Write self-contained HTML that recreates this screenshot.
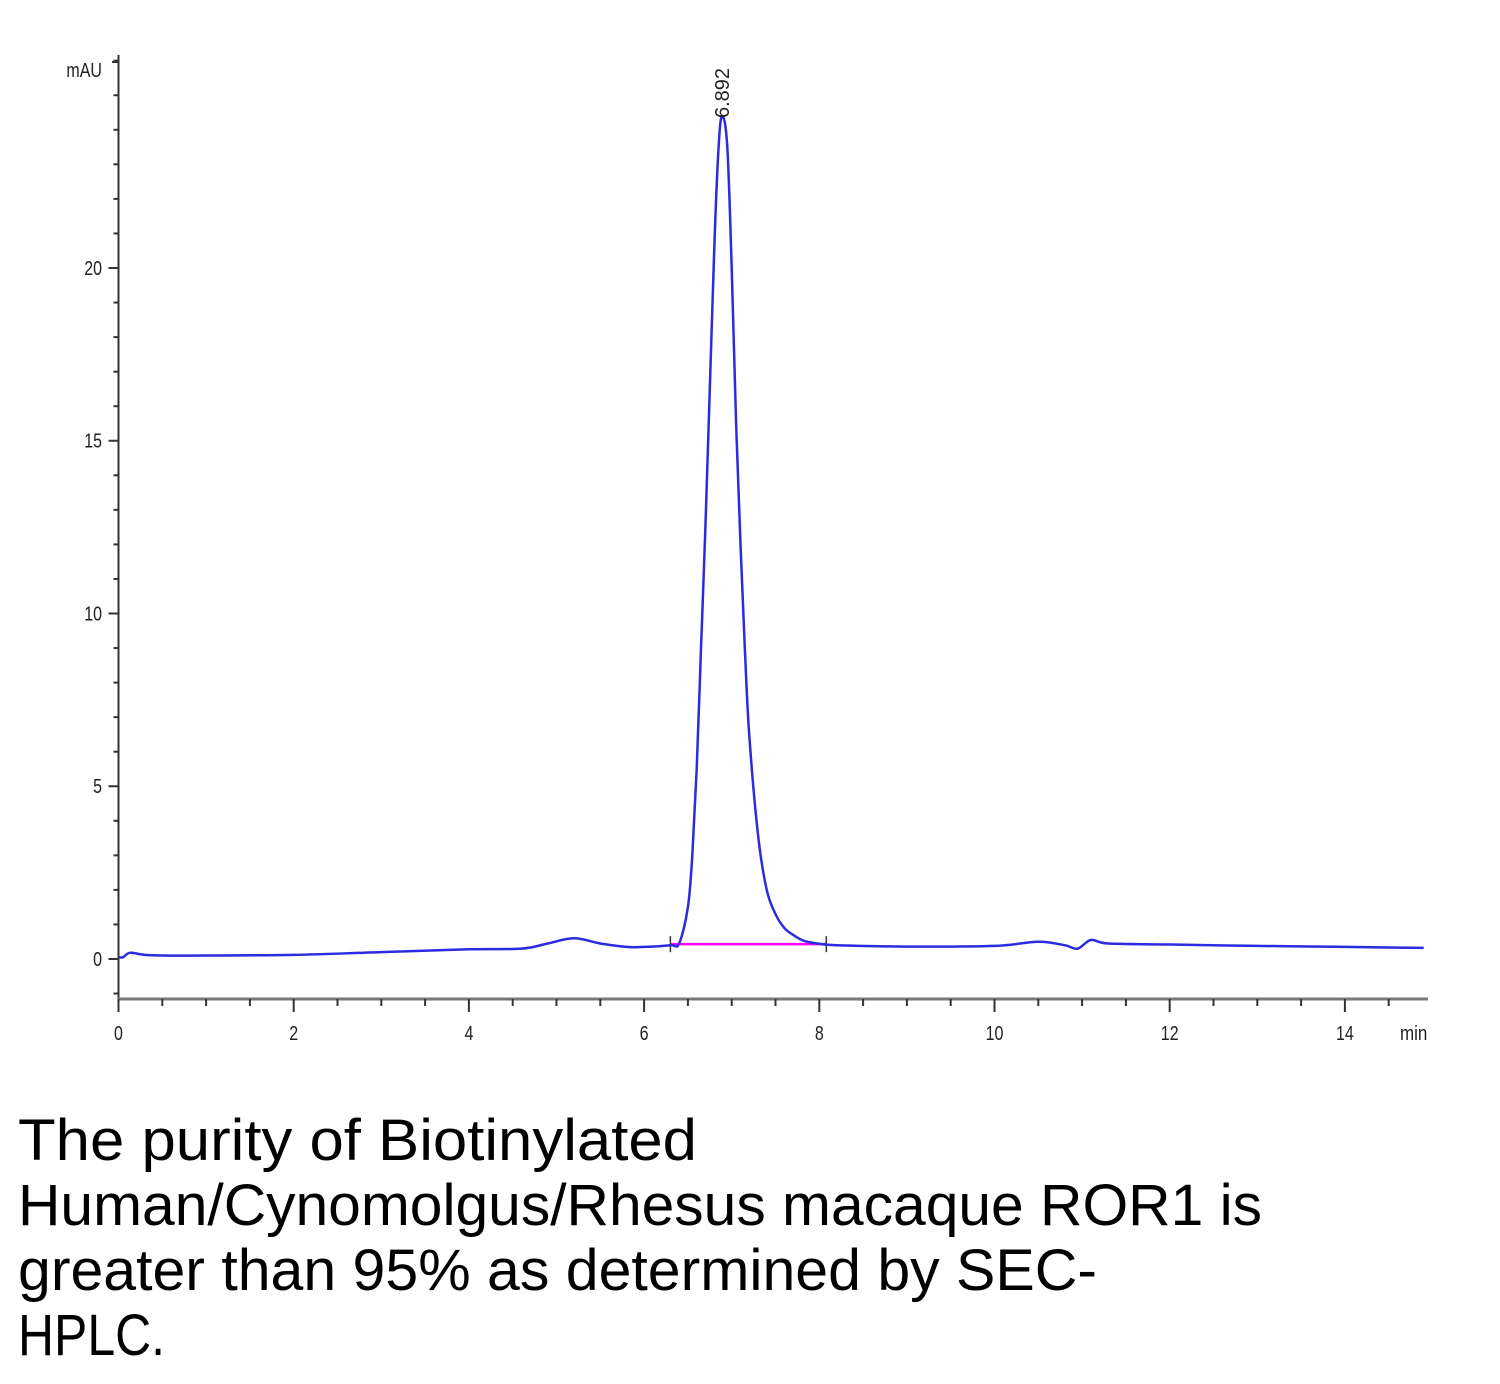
<!DOCTYPE html>
<html><head><meta charset="utf-8"><style>
html,body{margin:0;padding:0;background:#fff;}
svg{display:block;}
</style></head><body>
<svg id="chart" width="1500" height="1384" viewBox="0 0 1500 1384" xmlns="http://www.w3.org/2000/svg">
<g id="axes"></g>
<g id="series"></g>
<g font-family="Liberation Sans, sans-serif" font-size="58" fill="#000">
<text x="18" y="1160" textLength="679" lengthAdjust="spacingAndGlyphs">The purity of Biotinylated</text>
<text x="18" y="1225" textLength="1244" lengthAdjust="spacingAndGlyphs">Human/Cynomolgus/Rhesus macaque ROR1 is</text>
<text x="18" y="1290" textLength="1079" lengthAdjust="spacingAndGlyphs">greater than 95% as determined by SEC-</text>
<text x="18" y="1355" textLength="147" lengthAdjust="spacingAndGlyphs">HPLC.</text>
</g>
</svg>
<script>
const times = [0,0.05,0.1,0.15,0.3,0.5,1,2,3,4,4.6,4.9,5.2,5.5,5.8,6.0,6.3,6.4,6.5,6.55,6.6,6.65,6.7,6.75,6.8,6.85,6.892,6.95,7.0,7.05,7.1,7.15,7.2,7.3,7.4,7.5,7.6,7.7,7.8,7.9,8.0,8.2,9,10,10.5,10.8,10.95,11.1,11.3,12,13,14,14.9];
const signal = [0.05,0.05,0.15,0.18,0.12,0.1,0.1,0.12,0.2,0.28,0.3,0.45,0.6,0.45,0.35,0.35,0.4,0.45,1.5,3,5.5,9,12.5,16.5,20.5,23.5,24.4,23.5,20,15.5,12,9,6.5,3.6,2,1.3,0.9,0.7,0.55,0.48,0.44,0.4,0.36,0.38,0.5,0.4,0.3,0.55,0.45,0.42,0.38,0.35,0.32];
const xTicks = [0,2,4,6,8,10,12,14];
const yTicks = [0,5,10,15,20];
const peakTime = [6.892];
const peakLabel = ["6.892"];
const baselineT = [6.3,8.08];
const baselineV = [0.43,0.43];

const NS="http://www.w3.org/2000/svg";
const X=t=>118.5+t*87.6;
const Y=v=>959-v*34.55;
function mk(tag,attrs,parent){const e=document.createElementNS(NS,tag);for(const k in attrs)e.setAttribute(k,attrs[k]);parent.appendChild(e);return e;}
const axes=document.getElementById('axes');
const series=document.getElementById('series');

let e=mk('line',{x1:118.5,y1:55,x2:118.5,y2:999,stroke:'#333','stroke-width':2},axes);


e=mk('line',{x1:118,y1:999,x2:1428,y2:999,stroke:'#777','stroke-width':3},axes);



for(let v=-1;v<=26;v++){
  const major=v%5===0&&v>=0&&v<=20;
  e=mk('line',{x1:118.5-(major?10:5),y1:Y(v),x2:118.5,y2:Y(v),stroke:'#333','stroke-width':2},axes);
  
  
}
e=mk('line',{x1:112,y1:62,x2:118.5,y2:62,stroke:'#333','stroke-width':2},axes);


yTicks.forEach(v=>{
  const t=mk('text',{x:102,y:Y(v)+7,'text-anchor':'end','font-family':'Liberation Sans, sans-serif','font-size':20,fill:'#222',transform:`translate(102 0) scale(0.8 1) translate(-102 0)`},axes);
  t.textContent=v;
  
  
});
e=mk('text',{x:102,y:77,'text-anchor':'end','font-family':'Liberation Sans, sans-serif','font-size':20,fill:'#222',transform:'translate(102 0) scale(0.8 1) translate(-102 0)'},axes);
e.textContent='mAU';



for(let t=0;t<=14.75;t+=0.5){
  const major=Math.abs(t%2)<1e-9;
  e=mk('line',{x1:X(t),y1:999,x2:X(t),y2:999+(major?13:7),stroke:'#333','stroke-width':2},axes);
  
  
}
xTicks.forEach(t=>{
  const l=mk('text',{x:X(t),y:1040,'text-anchor':'middle','font-family':'Liberation Sans, sans-serif','font-size':20,fill:'#222',transform:`translate(${X(t)} 0) scale(0.8 1) translate(${-X(t)} 0)`},axes);
  l.textContent=t;
  
  
});
e=mk('text',{x:1400,y:1040,'font-family':'Liberation Sans, sans-serif','font-size':20,fill:'#222',transform:'translate(1400 0) scale(0.85 1) translate(-1400 0)'},axes);
e.textContent='min';


mk('rect',{x:1429,y:1015,width:71,height:40,fill:'#fff'},axes);

e=mk('line',{x1:X(baselineT[0]),y1:Y(baselineV[0]),x2:X(baselineT[1]),y2:Y(baselineV[1]),stroke:'#ff00ff','stroke-width':2.5},series);


[0,1].forEach(i=>{
  const m=mk('line',{x1:X(baselineT[i]),y1:Y(baselineV[i])-8,x2:X(baselineT[i]),y2:Y(baselineV[i])+8,stroke:'#333','stroke-width':1.5},series);
  
  
});

// smooth path (Catmull-Rom -> Bezier)
const P=times.map((t,i)=>[X(t),Y(signal[i])]);
let d='M'+P[0][0].toFixed(1)+','+P[0][1].toFixed(1);
for(let i=0;i<P.length-1;i++){
  const p0=P[Math.max(0,i-1)],p1=P[i],p2=P[i+1],p3=P[Math.min(P.length-1,i+2)];
  const c1=[p1[0]+(p2[0]-p0[0])/6,p1[1]+(p2[1]-p0[1])/6];
  const c2=[p2[0]-(p3[0]-p1[0])/6,p2[1]-(p3[1]-p1[1])/6];
  d+=` C${c1[0].toFixed(1)},${c1[1].toFixed(1)} ${c2[0].toFixed(1)},${c2[1].toFixed(1)} ${p2[0].toFixed(1)},${p2[1].toFixed(1)}`;
}
e=mk('path',{d:d,fill:'none',stroke:'#2b2be0','stroke-width':2.5,'stroke-linejoin':'round'},series);



peakTime.forEach((t,i)=>{
  const px=X(t)+7,py=118;
  const l=mk('text',{x:px,y:py,'font-family':'Liberation Sans, sans-serif','font-size':20,fill:'#222',transform:`rotate(-90 ${px} ${py})`},series);
  l.textContent=peakLabel[i];
  
  
});
</script>
</body></html>
